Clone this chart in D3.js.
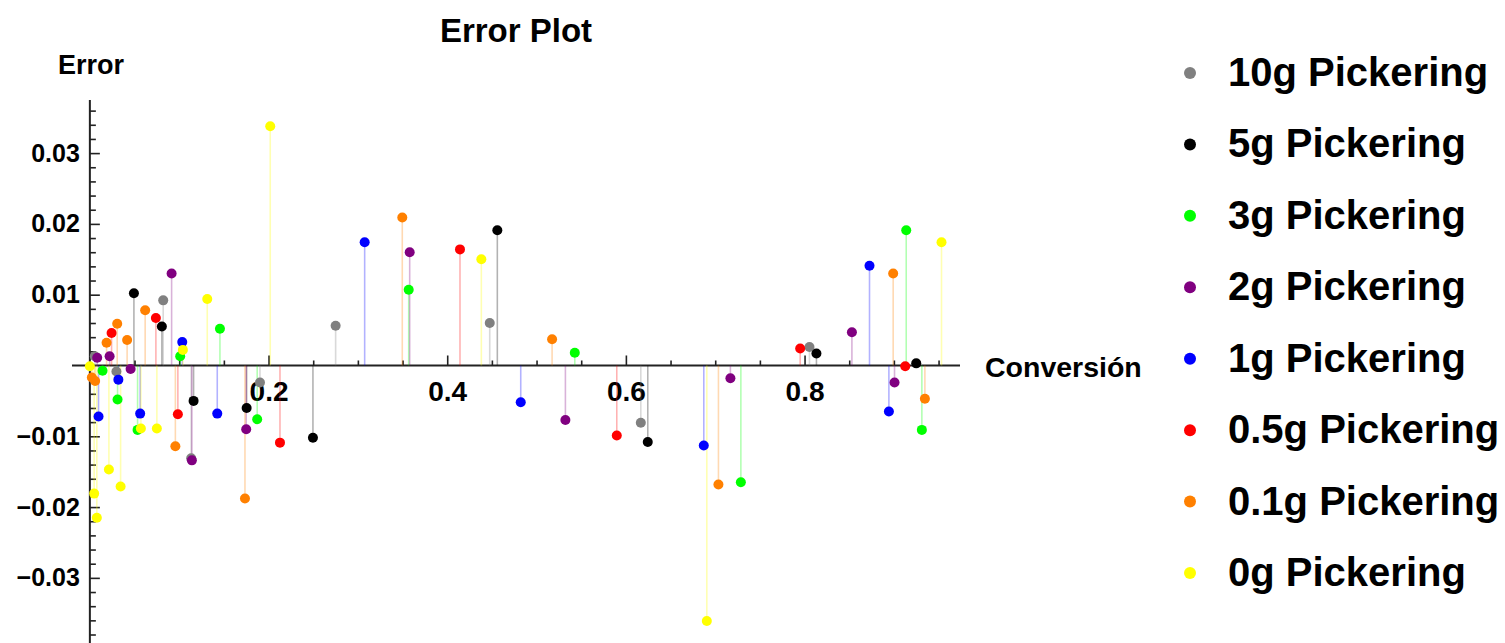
<!DOCTYPE html>
<html>
<head>
<meta charset="utf-8">
<script src="https://cdn.jsdelivr.net/npm/d3@7"></script>
<style>
  body { margin: 0; background: #fff; }
  text { font-family: "Liberation Sans", Arial, sans-serif; font-weight: bold; fill: #000; }
</style>
</head>
<body>
<svg id="chart" width="1505" height="643"></svg>
<script>
// Series labels and colours (legend order, also drawing order)
const seriesNames = ["10g Pickering", "5g Pickering", "3g Pickering", "2g Pickering",
                     "1g Pickering", "0.5g Pickering", "0.1g Pickering", "0g Pickering"];
const seriesColors = ["#808080", "#000000", "#00ff00", "#800080",
                      "#0000ff", "#ff0000", "#ff8000", "#ffff00"];

// Conversion (x) and error (y) for each series
const conv10g = [0.0056, 0.0297, 0.0821, 0.1134, 0.1904, 0.2751, 0.4476, 0.6167, 0.8055];
const err10g  = [0.0013, -0.00085, 0.0092, -0.0131, -0.0024, 0.0056, 0.0060, -0.0081, 0.0026];

const conv5g = [0.0493, 0.0806, 0.1161, 0.1755, 0.2497, 0.4561, 0.6245, 0.8133, 0.9250];
const err5g  = [0.0102, 0.0055, -0.0050, -0.0060, -0.0102, 0.0191, -0.0108, 0.0017, 0.0003];

const conv3g = [0.0142, 0.0310, 0.0534, 0.1011, 0.1456, 0.1873, 0.3569, 0.5428, 0.7287, 0.9138, 0.9313];
const err3g  = [-0.00075, -0.0048, -0.0091, 0.0013, 0.0052, -0.0076, 0.0107, 0.0018, -0.0165, 0.0191, -0.0091];

const conv2g = [0.0082, 0.0221, 0.0456, 0.0915, 0.1142, 0.1750, 0.3580, 0.5323, 0.7170, 0.8530, 0.9007];
const err2g  = [0.0011, 0.0013, -0.0005, 0.0130, -0.0134, -0.0090, 0.0160, -0.0077, -0.0018, 0.0047, -0.0024];

const conv1g = [0.0097, 0.0319, 0.0563, 0.1034, 0.1426, 0.3076, 0.4823, 0.6872, 0.8727, 0.8944];
const err1g  = [-0.0072, -0.0020, -0.0068, 0.0033, -0.0068, 0.0174, -0.0052, -0.0113, 0.0141, -0.0065];

const conv05g = [0.0243, 0.0739, 0.0985, 0.2128, 0.4143, 0.5898, 0.7951, 0.9127];
const err05g  = [0.0046, 0.0067, -0.0069, -0.0109, 0.0164, -0.0099, 0.0024, -0.0001];

const conv01g = [0.0022, 0.0059, 0.0187, 0.0306, 0.0417, 0.0619, 0.0957, 0.1736, 0.3497, 0.5174, 0.7036, 0.8992, 0.9347];
const err01g  = [-0.0017, -0.0022, 0.0032, 0.0059, 0.0036, 0.0078, -0.0114, -0.0188, 0.0209, 0.0037, -0.0168, 0.0130, -0.0047];

const conv0g = [0.0000, 0.0048, 0.0078, 0.0213, 0.0344, 0.0571, 0.0750, 0.1041, 0.1314, 0.2019, 0.4382, 0.6906, 0.9533];
const err0g  = [-0.0001, -0.0181, -0.0215, -0.0147, -0.0171, -0.0089, -0.0089, 0.0022, 0.0094, 0.0338, 0.0150, -0.0361, 0.0174];

// Tick values
const xMajorTicks = [0.2, 0.4, 0.6, 0.8];
const xMinorTicks = [0.05, 0.1, 0.15, 0.25, 0.3, 0.35, 0.45, 0.5, 0.55, 0.65, 0.7, 0.75, 0.85, 0.9, 0.95];
const yMajorTicks = [-0.03, -0.02, -0.01, 0.01, 0.02, 0.03];
const yMinorTicks = [-0.038, -0.036, -0.034, -0.032, -0.028, -0.026, -0.024, -0.022,
                     -0.018, -0.016, -0.014, -0.012, -0.008, -0.006, -0.004, -0.002,
                     0.002, 0.004, 0.006, 0.008, 0.012, 0.014, 0.016, 0.018,
                     0.022, 0.024, 0.026, 0.028, 0.032, 0.034, 0.036];

const seriesConv = [conv10g, conv5g, conv3g, conv2g, conv1g, conv05g, conv01g, conv0g];
const seriesErr  = [err10g, err5g, err3g, err2g, err1g, err05g, err01g, err0g];

const series = seriesNames.map((name, i) => ({
  name,
  color: seriesColors[i],
  points: seriesConv[i].map((c, j) => ({ x: c, y: seriesErr[i][j] }))
}));

const svg = d3.select("#chart");

const x = d3.scaleLinear().domain([-0.02, 0.974]).range([72, 960]);
const y = d3.scaleLinear().domain([-0.0392, 0.0375]).range([643, 100]);

const axisColor = "#222";
const labelFont = "'Liberation Sans', Arial, sans-serif";

// Y axis: ticks point right, labels on the left
const yMinor = svg.append("g").attr("transform", `translate(${x(0)},0)`)
  .call(d3.axisLeft(y).tickValues(yMinorTicks).tickSize(-6).tickFormat(""));
const yMajor = svg.append("g").attr("transform", `translate(${x(0)},0)`)
  .call(d3.axisLeft(y).tickValues(yMajorTicks).tickSize(-10).tickPadding(10)
        .tickFormat(d3.format(".2f")));
[yMinor, yMajor].forEach(g => {
  g.select(".domain").remove();
  g.selectAll(".tick line").attr("stroke", axisColor).attr("stroke-width", 1.6);
});
yMajor.selectAll(".tick text")
  .style("font-size", "25px").style("font-family", labelFont)
  .style("font-weight", "bold").attr("fill", "#000");

// X axis: ticks point up, labels below
const xMinor = svg.append("g").attr("transform", `translate(0,${y(0)})`)
  .call(d3.axisBottom(x).tickValues(xMinorTicks).tickSize(-5).tickFormat(""));
const xMajor = svg.append("g").attr("transform", `translate(0,${y(0)})`)
  .call(d3.axisBottom(x).tickValues(xMajorTicks).tickSize(-10).tickPadding(16)
        .tickFormat(d3.format(".1f")));
[xMinor, xMajor].forEach(g => {
  g.select(".domain").remove();
  g.selectAll(".tick line").attr("stroke", axisColor).attr("stroke-width", 1.6);
});
xMajor.selectAll(".tick text")
  .style("font-size", "28px").style("font-family", labelFont)
  .style("font-weight", "bold").attr("fill", "#000");

// Axis lines
svg.append("line")
  .attr("x1", x(-0.02)).attr("x2", x(0.974))
  .attr("y1", y(0)).attr("y2", y(0))
  .attr("stroke", axisColor).attr("stroke-width", 2);
svg.append("line")
  .attr("x1", x(0)).attr("x2", x(0))
  .attr("y1", y(0.0375)).attr("y2", y(-0.0392))
  .attr("stroke", axisColor).attr("stroke-width", 2);

// Stems from the zero line to each point
const plot = svg.append("g");
series.forEach(s => {
  plot.append("g").selectAll("line")
    .data(s.points).join("line")
    .attr("x1", d => x(d.x)).attr("x2", d => x(d.x))
    .attr("y1", y(0)).attr("y2", d => y(d.y))
    .attr("stroke", s.color).attr("stroke-opacity", 0.3).attr("stroke-width", 1.6);
});

// Points
series.forEach(s => {
  plot.append("g").selectAll("circle")
    .data(s.points).join("circle")
    .attr("cx", d => x(d.x)).attr("cy", d => y(d.y))
    .attr("r", 5).attr("fill", s.color);
});

// Title and axis labels
svg.append("text").attr("x", 516).attr("y", 42).attr("text-anchor", "middle")
  .style("font-size", "33px").text("Error Plot");
svg.append("text").attr("x", 58).attr("y", 74)
  .style("font-size", "27px").text("Error");
svg.append("text").attr("x", 985).attr("y", 377)
  .style("font-size", "28.5px").text("Conversión");

// Legend
const legend = svg.append("g");
const legendRow = d3.scaleLinear().domain([0, 7]).range([73, 573]);
series.forEach((s, i) => {
  const g = legend.append("g").attr("transform", `translate(0,${legendRow(i)})`);
  g.append("circle").attr("cx", 1190).attr("cy", 0).attr("r", 6).attr("fill", s.color);
  g.append("text").attr("x", 1228).attr("y", 13).style("font-size", "40px").text(s.name);
});
</script>
</body>
</html>
